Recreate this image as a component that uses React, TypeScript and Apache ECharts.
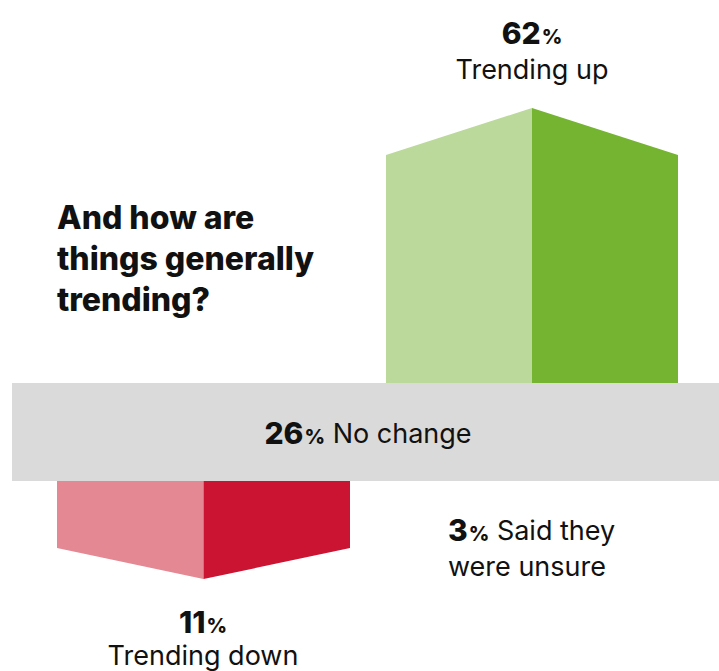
import React, { useEffect, useRef } from "react";
import * as echarts from "echarts";

// ---- data ----
const upValue = 62;
const upLabel = "Trending up";
const downValue = 11;
const downLabel = "Trending down";
const noChangeValue = 26;
const noChangeLabel = "No change";
const unsureValue = 3;
const unsureLabel = ["Said they", "were unsure"];
const titleLines = ["And how are", "things generally", "trending?"];

const FONT = "Inter, 'Noto Sans', sans-serif";

export default function App() {
  const ref = useRef<HTMLDivElement>(null);

  useEffect(() => {
    document.body.style.margin = "0";
    if (!ref.current) return;
    const chart = echarts.init(ref.current, null, { renderer: "svg" });

    const makeRender = (tip: number, light: string, dark: string, dir: number) =>
      (params: any, api: any) => {
        const v = api.value(1);
        const bl = api.coord([0, 0]);
        const br = api.coord([1, 0]);
        const tl = api.coord([0, v]);
        const xm = (bl[0] + br[0]) / 2;
        const yb = bl[1];
        const yv = tl[1];
        const yt = yv + dir * tip;
        return {
          type: "group",
          children: [
            {
              type: "polygon",
              shape: { points: [[bl[0], yb], [bl[0], yv], [xm, yt], [xm, yb]] },
              style: { fill: light },
            },
            {
              type: "polygon",
              shape: { points: [[xm, yb], [xm, yt], [br[0], yv], [br[0], yb]] },
              style: { fill: dark },
            },
          ],
        };
      };

    const pctRich = (size: number, pSize: number, nSize: number) => ({
      b: { fontFamily: FONT, fontWeight: 800, fontSize: size, fill: "#111", verticalAlign: "bottom", lineHeight: size * 1.05 },
      p: { fontFamily: FONT, fontWeight: 800, fontSize: pSize, fill: "#111", verticalAlign: "bottom", lineHeight: size * 1.05, padding: [0, 0, 1, 1] },
      n: { fontFamily: FONT, fontWeight: 400, fontSize: nSize, fill: "#111", verticalAlign: "bottom", lineHeight: size * 1.05, padding: [0, 0, 1, 0] },
    });

    chart.setOption({
      animation: false,
      grid: [
        { left: 386, right: 41, top: 155, bottom: 288 },
        { left: 57, right: 369, top: 481, bottom: 123 },
      ],
      xAxis: [
        { type: "value", min: 0, max: 1, show: false, gridIndex: 0 },
        { type: "value", min: 0, max: 1, show: false, gridIndex: 1 },
      ],
      yAxis: [
        { type: "value", min: 0, max: upValue, show: false, gridIndex: 0 },
        { type: "value", min: 0, max: downValue, inverse: true, show: false, gridIndex: 1 },
      ],
      series: [
        {
          type: "custom",
          xAxisIndex: 0,
          yAxisIndex: 0,
          data: [[0.5, upValue]],
          encode: { x: 0, y: 1 },
          renderItem: makeRender(47, "#bbd99a", "#74b431", -1),
          z: 2,
        },
        {
          type: "custom",
          xAxisIndex: 1,
          yAxisIndex: 1,
          data: [[0.5, downValue]],
          encode: { x: 0, y: 1 },
          renderItem: makeRender(31, "#e48893", "#cb1332", 1),
          z: 2,
        },
      ],
      graphic: [
        {
          type: "rect",
          shape: { x: 12, y: 383, width: 707, height: 98 },
          style: { fill: "#dadada" },
          z: 1,
        },
        {
          type: "text",
          x: 368,
          y: 432,
          z: 5,
          style: {
            text: `{b|${noChangeValue}}{p|%}{n| ${noChangeLabel}}`,
            rich: pctRich(30, 20, 27),
            align: "center",
            verticalAlign: "middle",
          },
        },
        {
          type: "text",
          x: 532,
          y: 32,
          z: 5,
          style: {
            text: `{b|${upValue}}{p|%}`,
            rich: pctRich(30, 20, 27),
            align: "center",
            verticalAlign: "middle",
          },
        },
        {
          type: "text",
          x: 532,
          y: 69,
          z: 5,
          style: {
            text: upLabel,
            fontFamily: FONT,
            fontSize: 27,
            fill: "#111",
            align: "center",
            verticalAlign: "middle",
          },
        },
        {
          type: "text",
          x: 203,
          y: 621,
          z: 5,
          style: {
            text: `{b|${downValue}}{p|%}`,
            rich: pctRich(30, 20, 27),
            align: "center",
            verticalAlign: "middle",
          },
        },
        {
          type: "text",
          x: 203,
          y: 655,
          z: 5,
          style: {
            text: downLabel,
            fontFamily: FONT,
            fontSize: 27,
            fill: "#111",
            align: "center",
            verticalAlign: "middle",
          },
        },
        {
          type: "text",
          x: 448,
          y: 529,
          z: 5,
          style: {
            text: `{b|${unsureValue}}{p|%}{n| ${unsureLabel[0]}}`,
            rich: pctRich(30, 20, 27),
            align: "left",
            verticalAlign: "middle",
          },
        },
        {
          type: "text",
          x: 448,
          y: 566,
          z: 5,
          style: {
            text: unsureLabel[1],
            fontFamily: FONT,
            fontSize: 27,
            fill: "#111",
            align: "left",
            verticalAlign: "middle",
          },
        },
        ...titleLines.map((t, i) => ({
          type: "text",
          x: 57,
          y: 217 + i * 41,
          z: 5,
          style: {
            text: t,
            fontFamily: FONT,
            fontWeight: 800,
            fontSize: 32,
            fill: "#111",
            align: "left",
            verticalAlign: "middle",
          },
        })),
      ],
    });

    return () => chart.dispose();
  }, []);

  return <div ref={ref} style={{ width: 719, height: 671 }} />;
}
